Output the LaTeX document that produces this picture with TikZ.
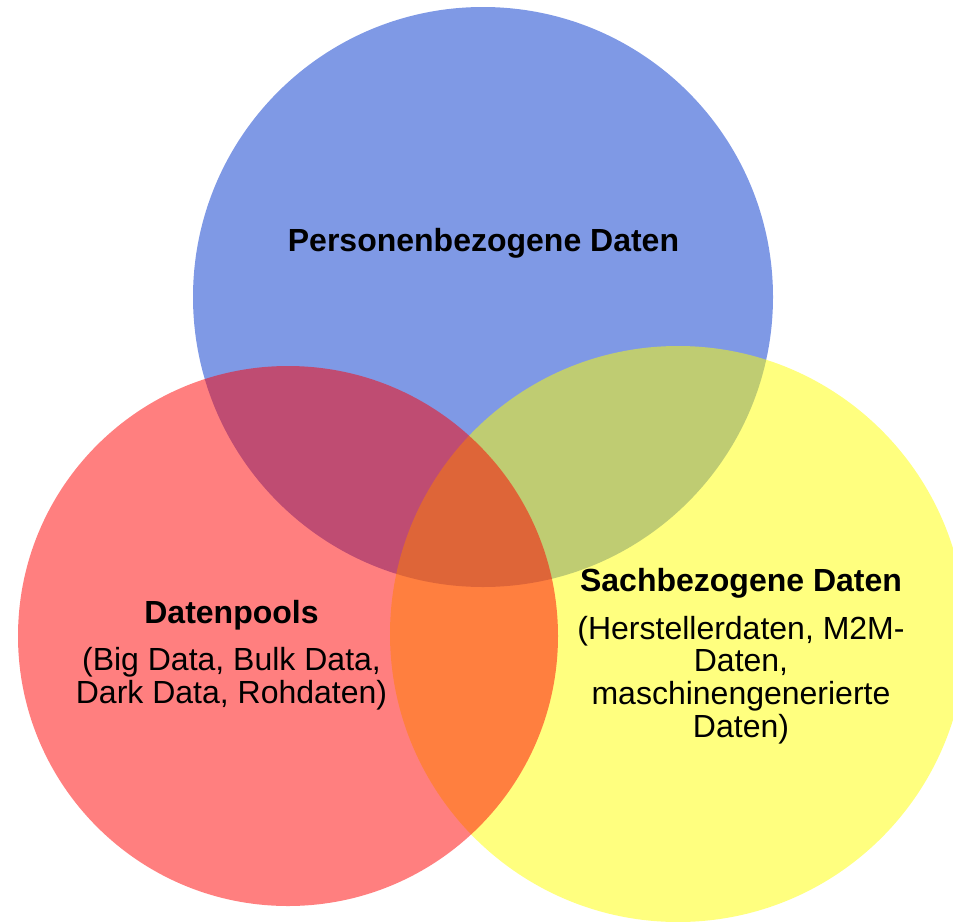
\documentclass[tikz,border=0pt]{standalone}
\usepackage{fontspec}
\setmainfont{Liberation Sans}
\usepackage{tikz}
\usetikzlibrary{positioning}
\definecolor{persblue}{RGB}{0,51,204}
\definecolor{poolred}{RGB}{255,0,0}
\definecolor{sachyellow}{RGB}{255,255,0}
\tikzstyle{venn} = [fill opacity=0.5]
\tikzstyle{venntext} = [align=center, anchor=base, inner sep=0pt, font=\fontsize{24}{24.5}\selectfont]

\begin{document}
\begin{tikzpicture}[x=0.75pt, y=-0.75pt]

   % Fix the page size
   \useasboundingbox (0,0) rectangle (953,921);

   % Draw the three circles (red last, on top)
   \fill[venn, persblue] (483,297) circle (290);
   \fill[venn, sachyellow] (678,634) circle (288);
   \fill[venn, poolred] (288,636) circle (270);

   % Add the texts (base is the last line)
   \node[venntext] (pers) at (483.5,251) {\textbf{Personenbezogene Daten}};
   \node[venntext] (pool) at (231.5,703) {\textbf{Datenpools}\\[11pt]
      (Big Data, Bulk Data,\\Dark Data, Rohdaten)};
   \node[venntext] (sach) at (741,737) {\textbf{Sachbezogene Daten}\\[11pt]
      (Herstellerdaten, M2M-\\Daten,\\maschinengenerierte\\Daten)};

\end{tikzpicture}
\end{document}
